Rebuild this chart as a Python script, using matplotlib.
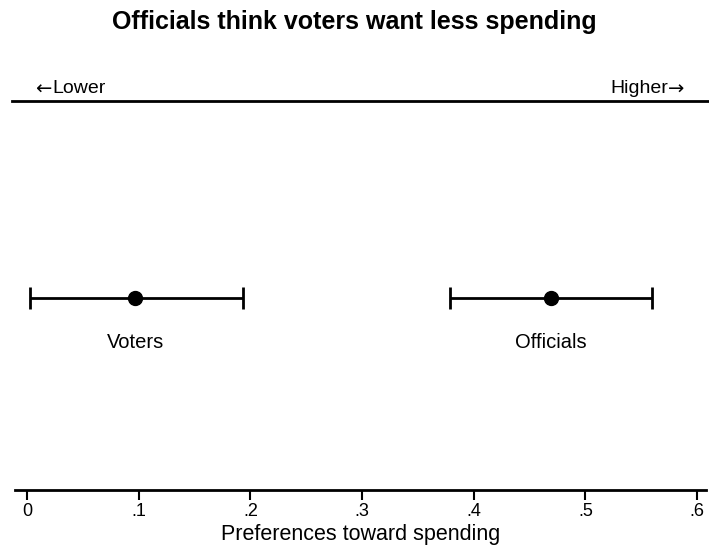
import matplotlib.pyplot as plt
from matplotlib.lines import Line2D

plt.rcParams['font.family'] = ['Liberation Sans', 'DejaVu Sans']

# Mean preference and 95% interval for each group
groups = ['Voters', 'Officials']
means = [0.097, 0.469]
lows = [0.003, 0.379]
highs = [0.193, 0.560]
ticks = [0, 0.1, 0.2, 0.3, 0.4, 0.5, 0.6]
tick_labels = ['0', '.1', '.2', '.3', '.4', '.5', '.6']

fig = plt.figure(figsize=(7.09, 5.52), dpi=100)
ax = fig.add_axes([15 / 709, 1 - 490 / 552, 691 / 709, 389 / 552])

row_y = 0.494
for name, m, lo, hi in zip(groups, means, lows, highs):
    ax.errorbar([m], [row_y], xerr=[[m - lo], [hi - m]], fmt='o', color='black',
                markersize=10, elinewidth=2, capsize=8, capthick=2)
    ax.text(m, row_y - 0.115, name, ha='center', va='center', fontsize=14.5)

ax.set_xlim(-0.0108, 0.608)
ax.set_ylim(0, 1)
ax.set_xticks(ticks)
ax.set_xticklabels(tick_labels, fontsize=13)
ax.tick_params(axis='x', length=7, width=1.5, pad=2)
ax.set_yticks([])
for side in ['top', 'left', 'right']:
    ax.spines[side].set_visible(False)
ax.spines['bottom'].set_linewidth(2)
ax.set_xlabel('Preferences toward spending', fontsize=15.5, labelpad=3)

# Direction line and arrows above the plot
fig.add_artist(Line2D([12 / 709, 1.0], [1 - 101 / 552] * 2, color='black', lw=2,
                      transform=fig.transFigure))
label_y = 1 - 89 / 552
fig.text(35 / 709, label_y, '\u2190', ha='left', va='center', fontsize=14,
         family='DejaVu Sans')
fig.text(52 / 709, label_y, 'Lower', ha='left', va='center', fontsize=14)
fig.text(668 / 709, label_y, 'Higher', ha='right', va='center', fontsize=14)
fig.text(668 / 709, label_y, '\u2192', ha='left', va='center', fontsize=14,
         family='DejaVu Sans')

fig.suptitle('Officials think voters want less spending', y=1 - 22 / 552,
             va='center', fontsize=18, fontweight='bold')

fig.savefig('out.png', dpi=100, facecolor='white')
